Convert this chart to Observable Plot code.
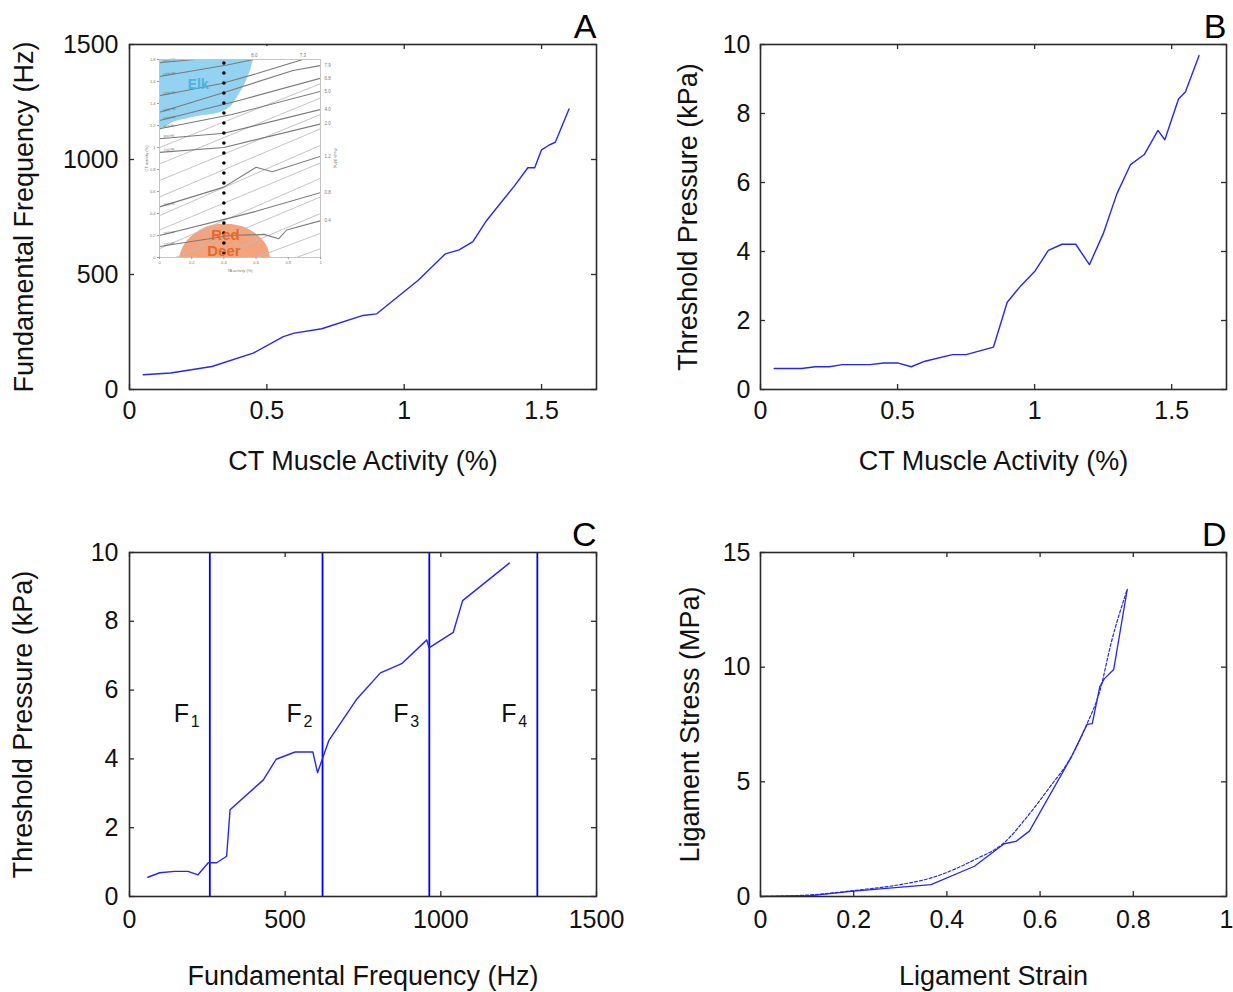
<!DOCTYPE html>
<html><head><meta charset="utf-8">
<script src="https://cdn.jsdelivr.net/npm/d3@7"></script>
<script src="https://cdn.jsdelivr.net/npm/@observablehq/plot@0.6"></script>
<style>
body{margin:0;background:#fff;}
#wrap{position:relative;width:1233px;height:992px;overflow:hidden;}
.pnl{position:absolute;}
</style></head><body><div id="wrap"></div>
<script>
// ---------- DATA ----------
// Panel A: CT muscle activity (%) vs fundamental frequency (Hz)
const ctA   = [0.05,0.15,0.30,0.45,0.56,0.60,0.70,0.85,0.90,1.05,1.15,1.20,1.25,1.30,1.40,1.45,1.475,1.50,1.525,1.55,1.60];
const freqA = [64,72,100,158,230,245,264,322,329,474,590,607,643,735,883,964,964,1042,1061,1075,1220];
// Panel B: CT muscle activity (%) vs threshold pressure (kPa)
const ctB    = [0.05,0.15,0.20,0.25,0.30,0.40,0.45,0.50,0.55,0.60,0.70,0.75,0.85,0.90,0.95,1.00,1.05,1.10,1.15,1.20,1.25,1.30,1.35,1.40,1.45,1.475,1.525,1.55,1.60];
const pressB = [0.61,0.61,0.66,0.66,0.72,0.72,0.77,0.77,0.66,0.82,1.01,1.01,1.23,2.53,3.01,3.42,4.03,4.21,4.21,3.62,4.51,5.67,6.52,6.81,7.51,7.24,8.42,8.62,9.68];
// Panel C: fundamental frequency (Hz) vs threshold pressure (kPa)
const freqC  = [59,97,145,188,220,253,280,312,323,430,471,532,589,604,640,731,806,876,955,962,1040,1070,1220];
const pressC = [0.56,0.69,0.73,0.73,0.63,0.98,0.98,1.17,2.52,3.39,3.99,4.20,4.20,3.60,4.53,5.75,6.50,6.78,7.46,7.23,7.68,8.60,9.69];
const formantFreqs  = [258,620,963,1310];
const formantIndex  = ["1","2","3","4"];
// Panel D: ligament strain vs stress (MPa), measured and fitted (dashed)
const strainD = [0,0.108,0.20,0.366,0.459,0.523,0.548,0.577,0.667,0.701,0.712,0.728,0.738,0.758,0.787];
const stressD = [0,0.04,0.23,0.52,1.32,2.30,2.40,2.85,6.08,7.51,7.54,9.14,9.50,9.90,13.39];
const strainFit = [0,0.108,0.20,0.30,0.366,0.459,0.523,0.577,0.62,0.667,0.70,0.728,0.753,0.787];
const stressFit = [0,0.07,0.26,0.52,0.81,1.60,2.35,3.60,4.75,6.10,7.50,8.95,11.10,13.40];
// Tick values
const ticksA_x = [0,0.5,1,1.5], ticksA_y = [0,500,1000,1500];
const ticksB_x = [0,0.5,1,1.5], ticksB_y = [0,2,4,6,8,10];
const ticksC_x = [0,500,1000,1500], ticksC_y = [0,2,4,6,8,10];
const ticksD_x = [0,0.2,0.4,0.6,0.8,1], ticksD_y = [0,5,10,15];
// Inset (panel A): TA activity vs CT activity contour map
const insetFreqContours = [
  [[0,1.77],[0.22,1.8]],
  [[0,1.645],[0.42,1.75],[0.585,1.8]],
  [[0,1.47],[0.38,1.58],[0.6,1.67],[0.89,1.8]],
  [[0,1.32],[0.4,1.5],[0.83,1.7],[1,1.745]],
  [[0,1.245],[0.5,1.43],[1,1.63]],
  [[0,1.17],[0.45,1.3],[1,1.51]],
  [[0,1.08],[0.4,1.13],[1,1.345]],
  [[0,0.956],[0.4,1.0],[1,1.214]],
  [[0,0.46],[0.4,0.64],[0.6,0.82],[0.7,0.78],[1,0.92]],
  [[0,0.2],[0.44,0.36],[0.6,0.42],[1,0.59]],
  [[0,0.1],[0.44,0.2],[0.65,0.21],[0.74,0.17],[0.79,0.25],[1,0.334]]
];
const insetPressContours = [
  [[0,1.0],[1,1.58]], [[0,0.85],[1,1.45]], [[0,0.7],[1,1.3]], [[0,0.55],[1,1.17]],
  [[0,0.38],[1,1.02]], [[0,0.25],[1,0.86]], [[0,0.08],[1,0.72]], [[0.1,0],[1,0.55]],
  [[0.35,0],[1,0.4]], [[0.6,0],[1,0.22]], [[0.85,0],[1,0.08]]
];
const insetFreqLabels = ["1400 Hz","1300 Hz","1200 Hz","1100 Hz","1000 Hz","900 Hz","800 Hz","700 Hz","300 Hz","200 Hz","100 Hz"];
const insetRightLabels = ["7.9","6.8","5.0","4.0","2.0","1.2","0.8","0.4"];
const insetRightLevels = [1.745,1.63,1.51,1.345,1.214,0.92,0.59,0.334];
const insetTopLabels = ["8.0","7.3"], insetTopPos = [0.59,0.89];
const elkX = [0,0.087,0.17,0.27,0.36,0.44,0.49,0.533,0.56,0.585];
const elkY = [1.15,1.23,1.26,1.29,1.31,1.366,1.47,1.58,1.68,1.8];
const deerX = [0.124,0.15,0.2,0.27,0.34,0.4,0.47,0.55,0.62,0.67,0.689];
const deerY = [0,0.1,0.19,0.26,0.295,0.30,0.295,0.26,0.19,0.1,0];
const insetTicksX = [0,0.2,0.4,0.6,0.8,1];
const insetTicksY = [0,0.2,0.4,0.6,0.8,1,1.2,1.4,1.6,1.8];

// ---------- HELPERS ----------
const FONT = '"Liberation Sans", Arial, Helvetica, sans-serif';
const INK = "#2a2a2a";
const BLUE = "#2626f2";
const zip = (xs, ys) => xs.map((x, i) => ({x, y: ys[i]}));
const fmt = d => String(d);

function panel(o) {
  const [x0, x1] = o.xDomain, [y0, y1] = o.yDomain, tk = 5;
  const tickStyle = {stroke: INK, strokeWidth: 1.3};
  return Plot.plot({
    width: o.width, height: o.height,
    marginLeft: o.ml, marginRight: o.mr, marginTop: o.mt, marginBottom: o.mb,
    style: {fontFamily: FONT, background: "transparent", overflow: "visible", color: "#111"},
    x: {domain: o.xDomain}, y: {domain: o.yDomain},
    marks: [
      ...o.marks,
      Plot.frame({stroke: INK, strokeWidth: 1.6}),
      Plot.ruleY(o.yTicks, {y: d => d, x1: x0, x2: x0, insetRight: -tk, ...tickStyle}),
      Plot.ruleY(o.yTicks, {y: d => d, x1: x1, x2: x1, insetLeft: -tk, ...tickStyle}),
      Plot.ruleX(o.xTicks, {x: d => d, y1: y0, y2: y0, insetBottom: tk, ...tickStyle}),
      Plot.ruleX(o.xTicks, {x: d => d, y1: y1, y2: y1, insetTop: tk, ...tickStyle}),
      Plot.axisX(o.xTicks, {tickSize: 0, tickPadding: o.xPad, fontSize: 25, label: null, tickFormat: fmt}),
      Plot.axisY(o.yTicks, {tickSize: 0, tickPadding: o.yPad, fontSize: 25, label: null, tickFormat: fmt}),
      Plot.text([o.xTitle], {frameAnchor: "bottom", dy: o.xTitleDy, fontSize: 27, lineAnchor: "bottom", textAnchor: "middle", fill: "#111"}),
      Plot.text([o.yTitle], {frameAnchor: "left", dx: o.yTitleDx, rotate: -90, fontSize: 27, lineAnchor: "middle", textAnchor: "middle", fill: "#111"}),
      Plot.text([o.letter], {frameAnchor: "top-right", dy: -7, fontSize: 34, lineAnchor: "bottom", textAnchor: "end", fill: "#000"})
    ]
  });
}

function place(node, left, top) {
  const d = document.createElement("div");
  d.className = "pnl";
  d.style.left = left + "px"; d.style.top = top + "px";
  d.appendChild(node);
  document.getElementById("wrap").appendChild(d);
}

// ---------- PANEL A ----------
place(panel({
  width: 616, height: 496, ml: 129, mr: 20, mt: 44, mb: 107,
  xDomain: [0, 1.7], yDomain: [0, 1500], xTicks: ticksA_x, yTicks: ticksA_y,
  xPad: 12, yPad: 11, xTitle: "CT Muscle Activity (%)", xTitleDy: 80,
  yTitle: "Fundamental Frequency (Hz)", yTitleDx: -105, letter: "A",
  marks: [Plot.line(zip(ctA, freqA), {x: "x", y: "y", stroke: BLUE, strokeWidth: 1.4})]
}), 0, 0);

// ---------- PANEL B ----------
place(panel({
  width: 617, height: 496, ml: 144, mr: 7, mt: 44, mb: 107,
  xDomain: [0, 1.7], yDomain: [0, 10], xTicks: ticksB_x, yTicks: ticksB_y,
  xPad: 12, yPad: 10, xTitle: "CT Muscle Activity (%)", xTitleDy: 80,
  yTitle: "Threshold Pressure (kPa)", yTitleDx: -72, letter: "B",
  marks: [Plot.line(zip(ctB, pressB), {x: "x", y: "y", stroke: BLUE, strokeWidth: 1.4})]
}), 616, 0);

// ---------- PANEL C ----------
place(panel({
  width: 616, height: 496, ml: 129, mr: 20, mt: 56, mb: 96,
  xDomain: [0, 1500], yDomain: [0, 10], xTicks: ticksC_x, yTicks: ticksC_y,
  xPad: 14, yPad: 11, xTitle: "Fundamental Frequency (Hz)", xTitleDy: 88,
  yTitle: "Threshold Pressure (kPa)", yTitleDx: -106, letter: "C",
  marks: [
    Plot.ruleX(formantFreqs, {x: d => d, stroke: "#0000ff", strokeWidth: 1.8}),
    Plot.line(zip(freqC, pressC), {x: "x", y: "y", stroke: BLUE, strokeWidth: 1.4}),
    Plot.text(formantFreqs, {x: d => d, y: 5.3, text: () => "F", dx: -36, textAnchor: "start", lineAnchor: "middle", fontSize: 25, fill: "#111"}),
    Plot.text(formantFreqs, {x: d => d, y: 5.3, text: (d, i) => formantIndex[i], dx: -19, dy: 8, textAnchor: "start", lineAnchor: "middle", fontSize: 16, fill: "#111"})
  ]
}), 0, 496);

// ---------- PANEL D ----------
place(panel({
  width: 617, height: 496, ml: 144, mr: 7, mt: 56, mb: 96,
  xDomain: [0, 1], yDomain: [0, 15], xTicks: ticksD_x, yTicks: ticksD_y,
  xPad: 14, yPad: 10, xTitle: "Ligament Strain", xTitleDy: 88,
  yTitle: "Ligament Stress (MPa)", yTitleDx: -70, letter: "D",
  marks: [
    Plot.line(zip(strainFit, stressFit), {x: "x", y: "y", stroke: BLUE, strokeWidth: 1.2, strokeDasharray: "3,2", curve: "monotone-x"}),
    Plot.line(zip(strainD, stressD), {x: "x", y: "y", stroke: BLUE, strokeWidth: 1.3})
  ]
}), 616, 496);

// ---------- INSET (in panel A) ----------
const freqRows = insetFreqContours.flatMap((pts, k) => pts.map(([x, y]) => ({k, x, y})));
const pressRows = insetPressContours.flatMap((pts, k) => pts.map(([x, y]) => ({k, x, y})));
const freqLabelRows = insetFreqContours.map((pts, k) => ({x: 0.06, y: pts[0][1] + 0.025, t: insetFreqLabels[k]})).filter(d => d.y < 1.8);
const inset = Plot.plot({
  width: 200, height: 230, marginLeft: 19, marginRight: 20, marginTop: 13, marginBottom: 19,
  style: {fontFamily: FONT, background: "#fff", overflow: "visible"},
  x: {domain: [0, 1]}, y: {domain: [0, 1.8]},
  marks: [
    Plot.areaY(zip(elkX, elkY), {x: "x", y1: "y", y2: 1.8, fill: "#8dd0ef", fillOpacity: 0.95, curve: "catmull-rom"}),
    Plot.areaY(zip(deerX, deerY), {x: "x", y: "y", fill: "#f09a70", fillOpacity: 0.9, curve: "catmull-rom"}),
    Plot.line(pressRows, {x: "x", y: "y", z: "k", stroke: "#bdbdbd", strokeWidth: 0.9, clip: true}),
    Plot.line(freqRows, {x: "x", y: "y", z: "k", stroke: "#7a7a7a", strokeWidth: 1.1, clip: true}),
    Plot.text(freqLabelRows, {x: "x", y: "y", text: "t", fontSize: 3.5, fill: "#666", rotate: -8}),
    Plot.frame({stroke: "#c4c4c4", strokeWidth: 1}),
    Plot.axisX(insetTicksX, {tickSize: 2, tickPadding: 2, fontSize: 4, stroke: "#999", fill: "#777", label: null, tickFormat: fmt}),
    Plot.axisY(insetTicksY, {tickSize: 2, tickPadding: 2, fontSize: 4, stroke: "#999", fill: "#777", label: null, tickFormat: fmt}),
    Plot.text(insetRightLabels, {x: 1, y: (d, i) => insetRightLevels[i], dx: 4, textAnchor: "start", fontSize: 4.5, fill: "#777"}),
    Plot.text(insetTopLabels, {x: (d, i) => insetTopPos[i], y: 1.8, dy: -3, fontSize: 4.5, fill: "#777", lineAnchor: "bottom"}),
    Plot.text(["TA activity (%)"], {frameAnchor: "bottom", dy: 14, fontSize: 4, fill: "#777"}),
    Plot.text(["CT activity (%)"], {frameAnchor: "left", dx: -13, rotate: -90, fontSize: 4, fill: "#777", textAnchor: "middle"}),
    Plot.text(["Psub (kPa)"], {frameAnchor: "right", dx: 15, rotate: 90, fontSize: 4, fill: "#777", textAnchor: "middle"}),
    Plot.text(["Elk"], {x: 0.24, y: 1.57, fontSize: 14, fontWeight: "bold", fill: "#4db3e3"}),
    Plot.ruleX([0.4], {y1: 0, y2: 1.8, insetTop: -4, stroke: "#000", strokeWidth: 3.6, strokeDasharray: "0 10", strokeLinecap: "round"}),
    Plot.text(["Red"], {x: 0.41, y: 0.2, fontSize: 15, fontWeight: "bold", fill: "#e8692a"}),
    Plot.text(["Deer"], {x: 0.4, y: 0.06, fontSize: 15, fontWeight: "bold", fill: "#e8692a"})
  ]
});
place(inset, 140, 46);
</script>
</body></html>
